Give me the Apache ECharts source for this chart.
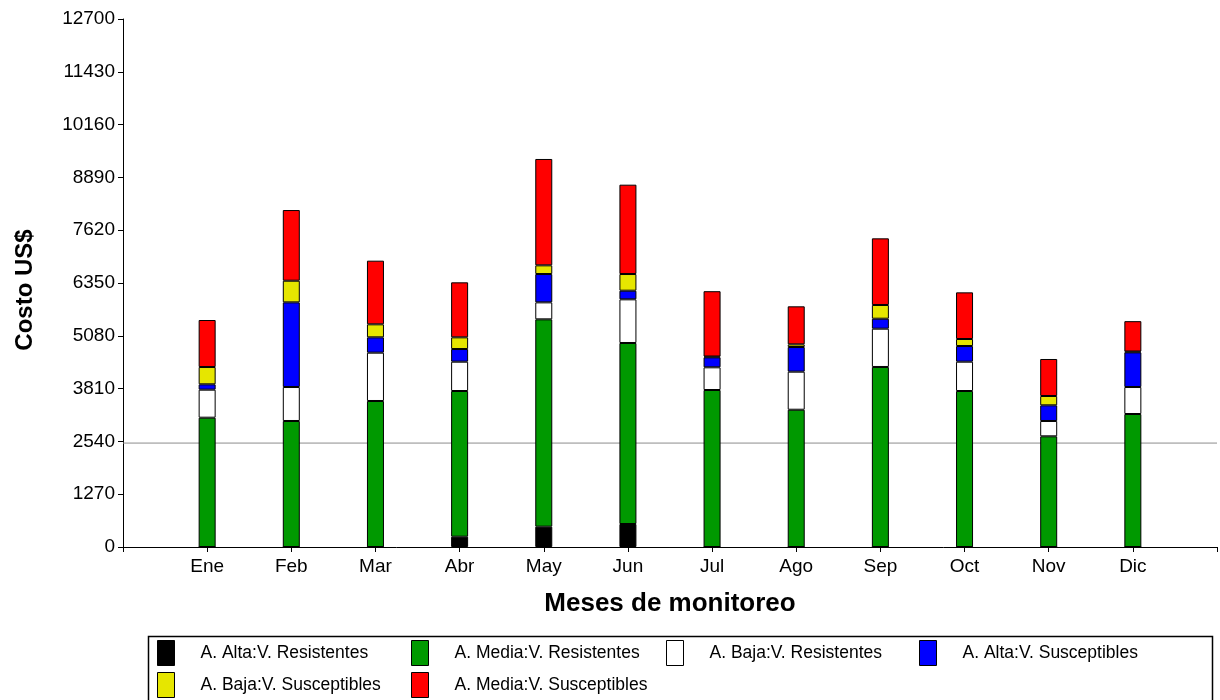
<!DOCTYPE html>
<html>
<head>
<meta charset="utf-8">
<script src="https://cdn.jsdelivr.net/npm/echarts@6/dist/echarts.min.js"></script>
<style>
html,body{margin:0;padding:0;background:#fff;}
#chart{width:1220px;height:700px;}
</style>
</head>
<body>
<div id="chart"></div>
<script>
const months = ['Ene','Feb','Mar','Abr','May','Jun','Jul','Ago','Sep','Oct','Nov','Dic'];
const yTicks = [0,1270,2540,3810,5080,6350,7620,8890,10160,11430,12700];
const altaRes   = [0,   0,   0,   248, 489, 553, 0,   0,   0,   0,   0,   0];
const mediaRes  = [3110,3031,3512,3504,4987,4354,3776,3302,4330,3752,2662,3199];
const bajaRes   = [674, 817, 1162,705, 408, 1050,546, 915, 921, 705, 369, 649];
const altaSus   = [129, 2036,369, 305, 682, 208, 240, 593, 240, 377, 377, 834];
const bajaSus   = [416, 521, 313, 281, 209, 401, 20,  64,  330, 169, 224, 20];
const mediaSus  = [1131,1700,1531,1323,2558,2149,1571,915, 1603,1122,890, 730];
const threshold = 2500;

const seriesDefs = [
  {name:'A. Alta:V. Resistentes', data:altaRes, color:'#000000'},
  {name:'A. Media:V. Resistentes', data:mediaRes, color:'#009900'},
  {name:'A. Baja:V. Resistentes', data:bajaRes, color:'#ffffff'},
  {name:'A. Alta:V. Susceptibles', data:altaSus, color:'#0000ff'},
  {name:'A. Baja:V. Susceptibles', data:bajaSus, color:'#e6e600'},
  {name:'A. Media:V. Susceptibles', data:mediaSus, color:'#ff0000'}
];

const cats = [''].concat(months).concat(['']);
const pad = arr => ['-'].concat(arr).concat(['-']);

const font = 'Liberation Sans, Arial, sans-serif';

const series = seriesDefs.map(s => ({
  name: s.name,
  type: 'bar',
  stack: 'total',
  barWidth: 17,
  z: 3,
  data: pad(s.data),
  itemStyle: {color: s.color, borderColor: '#000', borderWidth: 1}
}));
series.unshift({
  name: 'umbral',
  type: 'line',
  data: cats.map(() => threshold),
  symbol: 'none',
  silent: true,
  z: 1,
  lineStyle: {color: '#8c8c8c', width: 1},
  itemStyle: {color: '#8c8c8c'}
});

const legendPos = [
  [157, 640], [411, 640], [666, 640], [919, 640],
  [157, 672], [411, 672]
];
const legends = seriesDefs.map((s, i) => ({
  data: [s.name],
  left: legendPos[i][0],
  top: legendPos[i][1],
  padding: 0,
  orient: 'horizontal',
  itemWidth: 17,
  itemHeight: 25,
  selectedMode: false,
  icon: 'rect',
  itemStyle: {borderColor: '#000', borderWidth: 1},
  textStyle: {fontFamily: font, fontSize: 17.5, color: '#000', padding: [0,0,0,21]}
}));

const chart = echarts.init(document.getElementById('chart'), null, {renderer: 'canvas'});
chart.setOption({
  animation: false,
  backgroundColor: '#fff',
  grid: {left: 123, right: 3, top: 19, bottom: 153, containLabel: false},
  legend: legends,
  xAxis: {
    type: 'category',
    data: cats,
    boundaryGap: false,
    name: 'Meses de monitoreo',
    nameLocation: 'middle',
    nameGap: 44,
    nameTextStyle: {fontFamily: font, fontSize: 26, fontWeight: 'bold', color: '#000'},
    axisLine: {lineStyle: {color: '#000', width: 1}},
    axisTick: {show: true, length: 5, lineStyle: {color: '#000'}, alignWithLabel: true},
    axisLabel: {fontFamily: font, fontSize: 19, color: '#000', margin: 10, interval: 0},
    splitLine: {show: false}
  },
  yAxis: {
    type: 'value',
    min: 0,
    max: 12700,
    interval: 1270,
    name: 'Costo US$',
    nameLocation: 'middle',
    nameGap: 86,
    nameTextStyle: {fontFamily: font, fontSize: 24, fontWeight: 'bold', color: '#000', padding: [0,14,0,0]},
    axisLine: {show: true, lineStyle: {color: '#000', width: 1}},
    axisTick: {show: true, length: 5, lineStyle: {color: '#000'}},
    axisLabel: {fontFamily: font, fontSize: 19, color: '#000', margin: 8,
      formatter: v => yTicks.includes(v) ? String(v) : ''},
    splitLine: {show: false}
  },
  graphic: [{
    type: 'rect',
    shape: {x: 148.5, y: 636.5, width: 1064, height: 80},
    style: {fill: 'none', stroke: '#000', lineWidth: 1.5},
    z: -1
  }],
  series: series
});
</script>
</body>
</html>
